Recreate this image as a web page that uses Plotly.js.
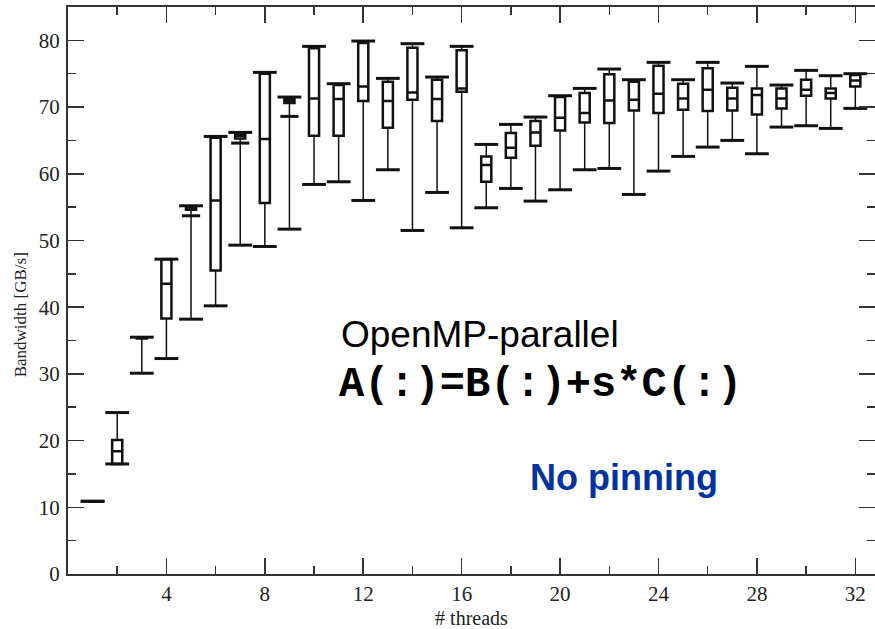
<!DOCTYPE html>
<html>
<head>
<meta charset="utf-8">
<script src="https://cdn.plot.ly/plotly-3.0.1.min.js"></script>
<style>
html,body{margin:0;padding:0;background:#fff;}
#chart{width:875px;height:629px;}
</style>
</head>
<body>
<div id="chart"></div>
<script>
// Number of threads
const threads = [1,2,3,4,5,6,7,8,9,10,11,12,13,14,15,16,17,18,19,20,21,22,23,24,25,26,27,28,29,30,31,32];
// Bandwidth statistics [GB/s]
const upperWhisker = [10.9,24.2,35.5,47.2,55.2,65.6,66.2,75.2,71.5,79.1,73.5,79.9,74.3,79.5,74.5,79.1,64.4,67.4,68.5,71.7,72.8,75.7,74.1,76.7,74.1,76.7,73.6,76.1,73.3,75.5,74.7,75.0];
const q3 = [10.9,20.1,35.5,47.2,55.0,65.4,66.0,75.0,71.3,78.8,73.3,79.6,73.8,78.9,74.1,78.5,62.6,66.1,67.9,71.5,72.1,74.9,73.8,76.2,73.5,75.8,72.9,72.8,72.8,74.1,72.8,74.8];
const median = [10.9,18.4,35.4,43.5,54.9,56.0,65.7,65.2,71.0,71.3,71.2,73.1,70.9,72.2,71.2,72.8,61.3,63.9,66.2,68.4,69.1,71.0,71.1,72.0,71.3,72.6,71.3,71.8,71.3,72.6,72.1,74.0];
const q1 = [10.9,16.5,35.3,38.3,54.6,45.5,65.3,55.6,70.6,65.7,65.7,70.9,66.9,71.1,67.9,72.3,58.8,62.4,64.2,66.5,67.7,67.6,69.5,69.1,69.6,69.4,69.5,68.9,69.8,71.7,71.3,73.1];
const lowerWhisker = [10.9,16.5,30.1,32.3,38.2,40.2,49.3,49.1,51.7,58.4,58.8,56.0,60.6,51.5,57.2,51.9,54.9,57.8,55.9,57.6,60.6,60.8,56.9,60.4,62.6,64.0,65.0,63.0,67.0,67.2,66.8,69.8];
// extra intermediate tick on the lower whisker
const midTick = [null,null,null,null,53.7,null,64.6,null,68.6,null,null,null,null,null,null,null,null,null,null,null,null,null,null,null,null,null,null,null,null,null,null,null];

const xTickVals = [4,8,12,16,20,24,28,32];
const xMinorVals = [2,6,10,14,18,22,26,30];

const ink = '#111111';
const axisColor = '#333333';

const upperSeg = {
  type: 'scatter', mode: 'markers', x: threads, y: q3,
  marker: {color: 'rgba(0,0,0,0)', size: 1},
  error_y: {type: 'data', symmetric: false,
    array: upperWhisker.map((v, i) => v - q3[i]),
    arrayminus: threads.map(() => 0),
    width: 0, thickness: 1.5, color: ink},
  hoverinfo: 'skip', showlegend: false
};
const lowerSeg = {
  type: 'scatter', mode: 'markers', x: threads, y: q1,
  marker: {color: 'rgba(0,0,0,0)', size: 1},
  error_y: {type: 'data', symmetric: false,
    array: threads.map(() => 0),
    arrayminus: q1.map((v, i) => v - lowerWhisker[i]),
    width: 0, thickness: 1.5, color: ink},
  hoverinfo: 'skip', showlegend: false
};
const boxes = {
  type: 'box', x: threads, q1: q1, median: median, q3: q3,
  lowerfence: q1, upperfence: q3,
  width: 0.41, whiskerwidth: 0, boxpoints: false,
  fillcolor: 'rgba(255,255,255,1)',
  line: {color: ink, width: 2.5},
  hoverinfo: 'skip', showlegend: false
};
const capStyle = {symbol: 'line-ew', size: 17, line: {color: ink, width: 3}};
const upperCaps = {type: 'scatter', mode: 'markers', x: threads, y: upperWhisker, marker: capStyle, hoverinfo: 'skip', showlegend: false};
const lowerCaps = {type: 'scatter', mode: 'markers', x: threads, y: lowerWhisker, marker: capStyle, hoverinfo: 'skip', showlegend: false};
const midCaps = {type: 'scatter', mode: 'markers', x: threads, y: midTick,
  marker: {symbol: 'line-ew', size: 13, line: {color: ink, width: 3}}, hoverinfo: 'skip', showlegend: false};

const serif = 'Liberation Serif, Times New Roman, serif';

const layout = {
  width: 875, height: 629,
  margin: {l: 68, r: 0, t: 7, b: 55},
  paper_bgcolor: '#ffffff', plot_bgcolor: '#ffffff',
  showlegend: false,
  hovermode: false,
  xaxis: {
    range: [0, 32.8],
    tickmode: 'array', tickvals: xTickVals,
    ticks: 'inside', ticklen: 16, tickwidth: 1.5, tickcolor: axisColor,
    minor: {tickmode: 'array', tickvals: xMinorVals, ticks: 'inside', ticklen: 8, tickwidth: 1.5, tickcolor: axisColor},
    showline: true, linewidth: 2, linecolor: axisColor, mirror: 'ticks',
    showgrid: false, zeroline: false,
    tickfont: {family: serif, size: 21, color: '#222'},
    ticklabelstandoff: 0,
    title: {text: '# threads', font: {family: serif, size: 20, color: '#222'}, standoff: 6}
  },
  yaxis: {
    range: [0, 85],
    tick0: 0, dtick: 10,
    ticks: 'inside', ticklen: 16, tickwidth: 1.5, tickcolor: axisColor,
    minor: {dtick: 5, ticks: 'inside', ticklen: 8, tickwidth: 1.5, tickcolor: axisColor},
    showline: true, linewidth: 2, linecolor: axisColor, mirror: 'ticks',
    showgrid: false, zeroline: false,
    tickfont: {family: serif, size: 21, color: '#222'},
    ticklabelstandoff: 2
  },
  annotations: [
    {xref: 'paper', yref: 'paper', x: -0.0595, y: 0.458, xanchor: 'center', yanchor: 'middle', showarrow: false,
     textangle: -90, text: 'Bandwidth [GB/s]', font: {family: serif, size: 17, color: '#222'}},
    {xref: 'paper', yref: 'paper', x: 0.3358, y: 0.4217, xanchor: 'left', yanchor: 'middle', showarrow: false,
     text: 'OpenMP-parallel', font: {family: 'Liberation Sans, Arial, sans-serif', size: 37, color: '#000'}},
    {xref: 'paper', yref: 'paper', x: 0.3333, y: 0.3336, xanchor: 'left', yanchor: 'middle', showarrow: false,
     text: '<b>A(:)=B(:)+s*C(:)</b>', font: {family: 'Courier New, Liberation Mono, monospace', size: 42, color: '#000'}},
    {xref: 'paper', yref: 'paper', x: 0.570, y: 0.1699, xanchor: 'left', yanchor: 'middle', showarrow: false,
     text: '<b>No pinning</b>', font: {family: 'Liberation Sans, Arial, sans-serif', size: 36, color: '#0033a0'}}
  ]
};

Plotly.newPlot('chart', [upperSeg, lowerSeg, boxes, upperCaps, lowerCaps, midCaps], layout, {displayModeBar: false, staticPlot: true});
</script>
</body>
</html>
